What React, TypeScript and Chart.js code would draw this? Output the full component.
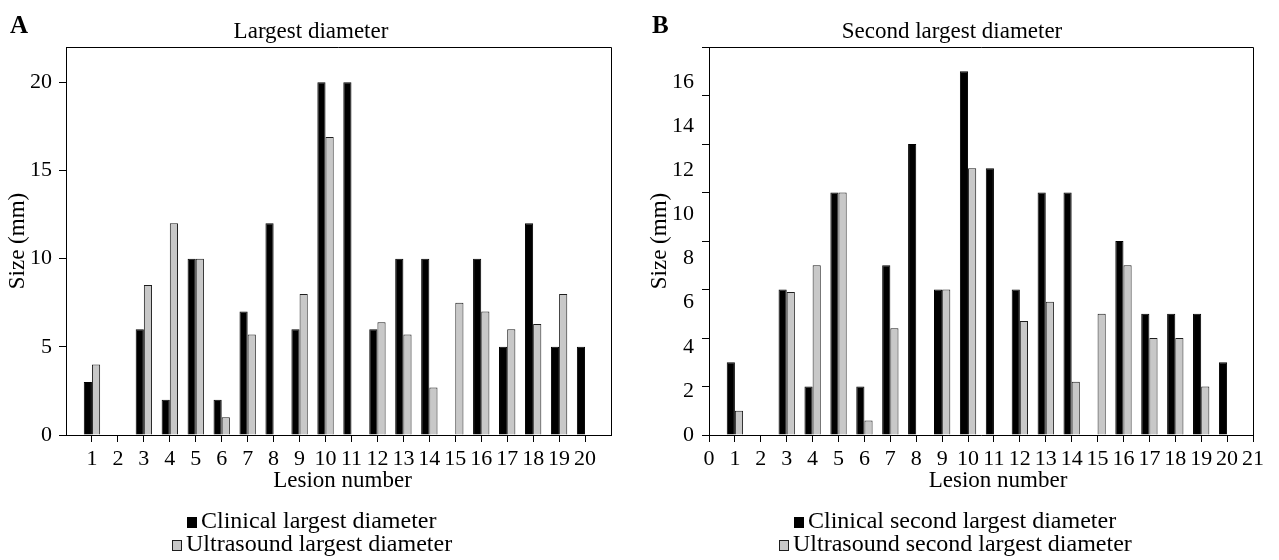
import React, { useEffect, useRef } from 'react';
import { Chart, registerables } from 'chart.js';

Chart.register(...registerables);

const FONT = '"Liberation Serif", "Times New Roman", serif';

// ---- data ----
const lesions = [1, 2, 3, 4, 5, 6, 7, 8, 9, 10, 11, 12, 13, 14, 15, 16, 17, 18, 19, 20];
const clinicalLargest = [3, null, 6, 2, 10, 2, 7, 12, 6, 20, 20, 6, 10, 10, null, 10, 5, 12, 5, 5];
const ultrasoundLargest = [4, null, 8.5, 12, 10, 1, 5.7, null, 8, 16.9, null, 6.4, 5.7, 2.7, 7.5, 7, 6, 6.3, 8, null];
const clinicalSecond = [3, null, 6, 2, 10, 2, 7, 12, 6, 15, 11, 6, 10, 10, null, 8, 5, 5, 5, 3];
const ultrasoundSecond = [1, null, 5.9, 7, 10, 0.6, 4.4, null, 6, 11, null, 4.7, 5.5, 2.2, 5, 7, 4, 4, 2, null];

const titleA = 'Largest diameter';
const titleB = 'Second largest diameter';
const legendA = ['Clinical largest diameter', 'Ultrasound largest diameter'];
const legendB = ['Clinical second largest diameter', 'Ultrasound second largest diameter'];
const xTitle = 'Lesion number';
const yTitle = 'Size (mm)';

const CLINICAL_FILL = '#000000';
const US_FILL = '#c8c8c8';
const US_BORDER = '#1e1e1e';
const AXIS = '#000000';

const toPoints = (vals: (number | null)[]) => lesions.map((x, i) => ({ x, y: vals[i] }));

const panelText = {
  id: 'panelText',
  afterDraw(chart: any, _args: any, opts: any) {
    const ctx = chart.ctx as CanvasRenderingContext2D;
    const { left, right, top, bottom } = chart.chartArea;
    ctx.save();
    // frame (top and right)
    ctx.strokeStyle = AXIS;
    ctx.lineWidth = 1;
    ctx.beginPath();
    ctx.moveTo(left, Math.round(top) + 0.5);
    ctx.lineTo(Math.round(right) + 0.5, Math.round(top) + 0.5);
    ctx.lineTo(Math.round(right) + 0.5, bottom);
    ctx.stroke();
    // panel letter
    ctx.fillStyle = '#000';
    ctx.font = `bold 25px ${FONT}`;
    ctx.textAlign = 'left';
    ctx.textBaseline = 'alphabetic';
    ctx.fillText(opts.letter, opts.letterX, opts.letterY);
    // title
    ctx.font = `23px ${FONT}`;
    ctx.textAlign = 'center';
    ctx.textBaseline = 'middle';
    ctx.fillText(opts.title, opts.titleX, opts.titleY);
    // x-axis title
    ctx.fillText(opts.xTitle, (left + right) / 2 + opts.xTitleDx, opts.xTitleY);
    // legend
    const BOX = 10;
    const GAP = 4;
    chart.data.datasets.forEach((ds: any, i: number) => {
      const y = opts.legendY[i];
      ctx.font = `24px ${FONT}`;
      const tw = ctx.measureText(ds.label).width;
      const total = BOX + GAP + tw;
      const x0 = Math.round(opts.legendX - total / 2);
      const by = Math.round(y - BOX / 2);
      ctx.fillStyle = ds.backgroundColor;
      ctx.fillRect(x0, by, BOX, BOX + 1);
      ctx.strokeStyle = ds.borderColor;
      ctx.lineWidth = 1;
      ctx.strokeRect(x0 + 0.5, by + 0.5, BOX - 1, BOX);
      ctx.fillStyle = '#000';
      ctx.textAlign = 'left';
      ctx.textBaseline = 'middle';
      ctx.fillText(ds.label, x0 + BOX + GAP, y);
    });
    ctx.restore();
  },
};

function datasets(c: (number | null)[], u: (number | null)[], labels: string[]) {
  return [
    {
      label: labels[0],
      data: toPoints(c),
      backgroundColor: CLINICAL_FILL,
      borderColor: CLINICAL_FILL,
      borderWidth: 1,
      barPercentage: 1,
      categoryPercentage: 0.63,
    },
    {
      label: labels[1],
      data: toPoints(u),
      backgroundColor: US_FILL,
      borderColor: US_BORDER,
      borderWidth: 1,
      barPercentage: 1,
      categoryPercentage: 0.63,
    },
  ];
}

function xScale(hideEnds: boolean) {
  return {
    type: 'linear',
    min: 0,
    max: 21,
    offset: false,
    weight: 0,
    ticks: {
      stepSize: 1,
      autoSkip: false,
      maxRotation: 0,
      minRotation: 0,
      padding: 4,
      color: '#000',
      font: { size: 22, family: FONT },
      callback: (v: number) => (hideEnds && (v === 0 || v === 21) ? '' : String(v)),
    },
    grid: {
      drawOnChartArea: false,
      offset: false,
      tickLength: 7,
      color: AXIS,
      tickColor: (c: any) =>
        hideEnds && c.tick && (c.tick.value === 0 || c.tick.value === 21) ? 'rgba(0,0,0,0)' : AXIS,
    },
    border: { color: AXIS, width: 1 },
    title: { display: false },
    afterFit: (s: any) => {
      s.height = 62;
    },
  };
}

function configA(): any {
  return {
    type: 'bar',
    data: { datasets: datasets(clinicalLargest, ultrasoundLargest, legendA) },
    plugins: [panelText],
    options: {
      responsive: false,
      animation: false,
      events: [],
      layout: { padding: { left: 0, right: 29, top: 47, bottom: 63 } },
      scales: {
        x: xScale(true),
        y: {
          type: 'linear',
          position: 'left',
          min: 0,
          max: 22,
          ticks: {
            stepSize: 5,
            includeBounds: false,
            padding: 7,
            color: '#000',
            font: { size: 22, family: FONT },
          },
          grid: { drawOnChartArea: false, tickLength: 7, color: AXIS },
          border: { color: AXIS, width: 1 },
          title: {
            display: true,
            text: yTitle,
            color: '#000',
            font: { size: 23, family: FONT },
            padding: { top: 4, bottom: 0 },
          },
          afterFit: (s: any) => {
            s.width = 66;
          },
        },
      },
      plugins: {
        legend: { display: false },
        title: { display: false },
        tooltip: { enabled: false },
        panelText: {
          letter: 'A',
          letterX: 10,
          letterY: 33,
          title: titleA,
          titleX: 311,
          titleY: 32,
          xTitle,
          xTitleDx: 4,
          xTitleY: 481,
          legendX: 312,
          legendY: [522, 545],
        },
      },
    },
  };
}

function configB(): any {
  return {
    type: 'bar',
    data: { datasets: datasets(clinicalSecond, ultrasoundSecond, legendB) },
    plugins: [panelText],
    options: {
      responsive: false,
      animation: false,
      events: [],
      layout: { padding: { left: 0, right: 26, top: 47, bottom: 63 } },
      scales: {
        x: xScale(false),
        y: {
          type: 'linear',
          position: 'left',
          weight: 0,
          min: 0,
          max: 16,
          ticks: { stepSize: 2, display: false },
          grid: { drawOnChartArea: false, tickLength: 7, color: AXIS },
          border: { color: AXIS, width: 1 },
          afterFit: (s: any) => {
            s.width = 7;
          },
        },
        yLabels: {
          type: 'linear',
          position: 'left',
          weight: 1,
          min: 0,
          max: 17.59,
          ticks: {
            stepSize: 2,
            includeBounds: false,
            padding: 8,
            color: '#000',
            font: { size: 22, family: FONT },
          },
          grid: { display: false, drawTicks: false, drawOnChartArea: false },
          border: { display: false },
          title: {
            display: true,
            text: yTitle,
            color: '#000',
            font: { size: 23, family: FONT },
            padding: { top: 6, bottom: 0 },
          },
          afterFit: (s: any) => {
            s.width = 62;
          },
        },
      },
      plugins: {
        legend: { display: false },
        title: { display: false },
        tooltip: { enabled: false },
        panelText: {
          letter: 'B',
          letterX: 12,
          letterY: 33,
          title: titleB,
          titleX: 312,
          titleY: 32,
          xTitle,
          xTitleDx: 17,
          xTitleY: 481,
          legendX: 315,
          legendY: [522, 545],
        },
      },
    },
  };
}

function Panel({ left, width, makeConfig }: { left: number; width: number; makeConfig: () => any }) {
  const ref = useRef<HTMLCanvasElement | null>(null);
  useEffect(() => {
    if (!ref.current) return;
    const chart = new Chart(ref.current, makeConfig());
    return () => chart.destroy();
  }, []);
  return (
    <div style={{ position: 'absolute', left, top: 0, width, height: 560 }}>
      <canvas ref={ref} width={width} height={560} style={{ display: 'block', width, height: 560 }} />
    </div>
  );
}

export default function App() {
  return (
    <div
      style={{
        position: 'fixed',
        left: 0,
        top: 0,
        width: 1279,
        height: 560,
        background: '#fff',
        overflow: 'hidden',
      }}
    >
      <Panel left={0} width={640} makeConfig={configA} />
      <Panel left={640} width={639} makeConfig={configB} />
    </div>
  );
}
